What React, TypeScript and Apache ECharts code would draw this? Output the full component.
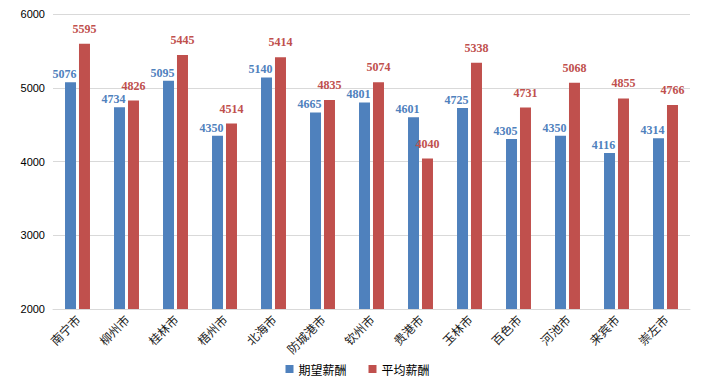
import React, { useEffect, useRef } from "react";
import * as echarts from "echarts";

const categories = ["南宁市", "柳州市", "桂林市", "梧州市", "北海市", "防城港市", "钦州市", "贵港市", "玉林市", "百色市", "河池市", "来宾市", "崇左市"];
const expected = [5076, 4734, 5095, 4350, 5140, 4665, 4801, 4601, 4725, 4305, 4350, 4116, 4314];
const average = [5595, 4826, 5445, 4514, 5414, 4835, 5074, 4040, 5338, 4731, 5068, 4855, 4766];
const seriesNames = ["期望薪酬", "平均薪酬"];

export default function App() {
  const ref = useRef<HTMLDivElement>(null);
  useEffect(() => {
    const chart = echarts.init(ref.current!, null, { renderer: "svg" });
    const labelFont = { fontFamily: "Liberation Serif", fontWeight: "bold" as const, fontSize: 12 };
    chart.setOption({
      animation: false,
      grid: { left: 53, right: 25, top: 14, bottom: 79 },
      legend: {
        bottom: 8,
        left: "center",
        itemWidth: 8,
        itemHeight: 8,
        itemGap: 22,
        icon: "rect",
        textStyle: { fontFamily: "Noto Sans CJK SC", fontSize: 12, color: "#000" },
        data: seriesNames,
      },
      xAxis: {
        type: "category",
        data: categories,
        axisLine: { lineStyle: { color: "#d9d9d9" } },
        axisTick: { show: false },
        axisLabel: { rotate: 45, fontFamily: "Noto Sans CJK SC", fontSize: 12, color: "#1a1a1a", margin: 8, interval: 0 },
      },
      yAxis: {
        type: "value",
        min: 2000,
        max: 6000,
        interval: 1000,
        axisLine: { show: false },
        axisTick: { show: false },
        splitLine: { lineStyle: { color: "#d9d9d9" } },
        axisLabel: { fontFamily: "Liberation Sans", fontSize: 11, color: "#000", margin: 8, formatter: (v: number) => String(v) },
      },
      series: [
        {
          name: seriesNames[0],
          type: "bar",
          data: expected,
          barWidth: 11,
          barGap: "27%",
          itemStyle: { color: "#4f81bd" },
          label: { show: true, position: "top", distance: 2, offset: [-6, 0], color: "#4f81bd", ...labelFont },
        },
        {
          name: seriesNames[1],
          type: "bar",
          data: average,
          barWidth: 11,
          itemStyle: { color: "#c0504d" },
          label: { show: true, position: "top", distance: 9, color: "#c0504d", ...labelFont },
        },
      ],
    });
    return () => chart.dispose();
  }, []);
  return <div ref={ref} style={{ width: 715, height: 388, position: "absolute", left: 0, top: 0 }} />;
}
